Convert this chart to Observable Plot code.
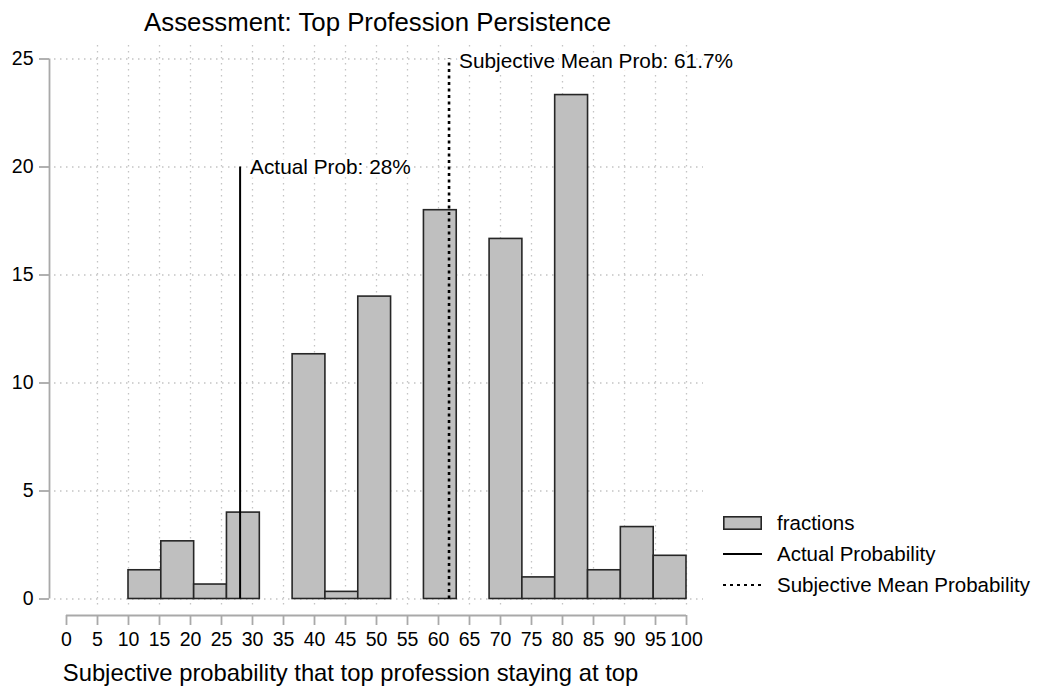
<!DOCTYPE html>
<html>
<head>
<meta charset="utf-8">
<script src="https://cdn.jsdelivr.net/npm/d3@7"></script>
<script src="https://cdn.jsdelivr.net/npm/@observablehq/plot@0.6"></script>
<style>
  html, body { margin: 0; padding: 0; background: #fff; }
  #wrap { position: relative; width: 1037px; height: 692px; font-family: "Liberation Sans", Arial, Helvetica, sans-serif; }
  #legend { position: absolute; left: 723px; top: 507px; font-size: 20.5px; color: #000; white-space: nowrap; }
  .row { display: flex; align-items: center; height: 31px; }
  .sw { width: 39px; margin-right: 15px; display: flex; align-items: center; }
</style>
</head>
<body>
<div id="wrap">
  <div id="chart"></div>
  <div id="legend"></div>
</div>
<script>
// ---- data ----
const binStart = [10, 15.29, 20.59, 25.88, 31.18, 36.47, 41.76, 47.06, 52.35, 57.65, 62.94, 68.24, 73.53, 78.82, 84.12, 89.41, 94.71];
const binEnd   = [15.29, 20.59, 25.88, 31.18, 36.47, 41.76, 47.06, 52.35, 57.65, 62.94, 68.24, 73.53, 78.82, 84.12, 89.41, 94.71, 100];
const fractions = [1.33, 2.67, 0.67, 4.0, 0, 11.33, 0.33, 14.0, 0, 18.0, 0, 16.67, 1.0, 23.33, 1.33, 3.33, 2.0];
const xTicks = [0, 5, 10, 15, 20, 25, 30, 35, 40, 45, 50, 55, 60, 65, 70, 75, 80, 85, 90, 95, 100];
const xGridTicks = [5, 10, 15, 20, 25, 30, 35, 40, 45, 50, 55, 60, 65, 70, 75, 80, 85, 90, 95, 100];
const yTicks = [0, 5, 10, 15, 20, 25];
const xDomain = [0, 100];
const yDomain = [0, 25];
const actualProb = 28;
const actualTop = 20;
const subjMean = 61.7;
const subjTop = 25;
const titleText = "Assessment: Top Profession Persistence";
const xLabel = "Subjective probability that top profession staying at top";
const actualLabel = "Actual Prob: 28%";
const subjLabel = "Subjective Mean Prob: 61.7%";
const legendLabels = ["fractions", "Actual Probability", "Subjective Mean Probability"];

const bins = binStart.map((s, i) => ({x1: s, x2: binEnd[i], y: fractions[i]})).filter(d => d.y > 0);

const FONT = '"Liberation Sans", Arial, Helvetica, sans-serif';
const AXIS = "#a9a9a9";
const GRID = "#c4c4c4";

const insetBottom = 16.5;
const insetLeft = 17;

const chart = Plot.plot({
  width: 1037,
  height: 692,
  marginTop: 45,
  marginBottom: 77,
  marginLeft: 49,
  marginRight: 332,
  style: {fontFamily: FONT, background: "#fff", color: "#000"},
  x: {domain: xDomain, insetLeft: insetLeft, insetRight: 19},
  y: {domain: yDomain, insetTop: 13.5, insetBottom: insetBottom},
  marks: [
    Plot.gridY(yTicks, {stroke: GRID, strokeOpacity: 1, strokeWidth: 1.3, strokeDasharray: "1.5,4.5", insetLeft: 5, insetRight: 2}),
    Plot.gridX(xGridTicks, {stroke: GRID, strokeOpacity: 1, strokeWidth: 1.3, strokeDasharray: "1.5,4.5", insetBottom: 6}),
    Plot.rectY(bins, {x1: "x1", x2: "x2", y: "y", fill: "#bfbfbf", stroke: "#262626", strokeWidth: 1.6}),
    Plot.ruleX([actualProb], {y1: 0, y2: actualTop, stroke: "#000", strokeWidth: 2}),
    Plot.ruleX([subjMean], {y1: 0, y2: subjTop, stroke: "#000", strokeWidth: 2.6, strokeDasharray: "3,3.5"}),
    Plot.text([actualLabel], {x: actualProb, y: actualTop, text: d => d, textAnchor: "start", dx: 10, fontSize: 20.8, fill: "#000", stroke: "#fff", strokeWidth: 7, lineAnchor: "middle"}),
    Plot.text([subjLabel], {x: subjMean, y: subjTop, text: d => d, textAnchor: "start", dx: 10, dy: 2, fontSize: 20.8, fill: "#000", stroke: "#fff", strokeWidth: 7, lineAnchor: "middle"}),
    // axis lines
    Plot.ruleY([yDomain[0]], {x1: xDomain[0], x2: xDomain[1], dy: insetBottom, stroke: AXIS, strokeWidth: 1.8}),
    Plot.ruleX([xDomain[0]], {y1: yDomain[0], y2: yDomain[1], dx: -insetLeft, stroke: AXIS, strokeWidth: 1.8}),
    Plot.axisY(yTicks, {anchor: "left", tickSize: 10, tickPadding: 6, fontSize: 19.5, stroke: AXIS, strokeWidth: 1.8, color: "#000", label: null}),
    Plot.axisX(xTicks, {anchor: "bottom", tickSize: 10, tickPadding: 7, fontSize: 19.5, stroke: AXIS, strokeWidth: 1.8, color: "#000", label: null}),
    Plot.text([titleText], {frameAnchor: "top", text: d => d, dy: -23, fontSize: 25.8, fill: "#000", lineAnchor: "middle"}),
    Plot.text([xLabel], {frameAnchor: "bottom", text: d => d, dx: -27, dy: 58, fontSize: 23.8, fill: "#000", lineAnchor: "middle"})
  ]
});
document.getElementById("chart").appendChild(chart);

// legend
const lg = document.getElementById("legend");
const swatches = [
  '<svg width="39" height="14"><rect x="0.8" y="0.8" width="37.4" height="12.4" fill="#bfbfbf" stroke="#262626" stroke-width="1.6"/></svg>',
  '<svg width="39" height="6"><line x1="0" x2="39" y1="3" y2="3" stroke="#000" stroke-width="2"/></svg>',
  '<svg width="39" height="6"><line x1="0" x2="39" y1="3" y2="3" stroke="#000" stroke-width="2" stroke-dasharray="3,4"/></svg>'
];
legendLabels.forEach((l, i) => {
  const row = document.createElement("div");
  row.className = "row";
  row.innerHTML = '<div class="sw">' + swatches[i] + '</div><div>' + l + '</div>';
  lg.appendChild(row);
});
</script>
</body>
</html>
